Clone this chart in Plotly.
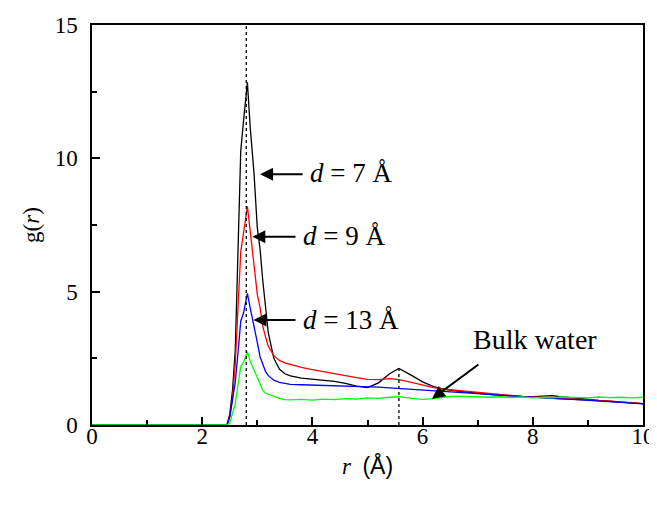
import plotly.graph_objects as go

r = [0.0, 2.4, 2.45, 2.5, 2.55, 2.6, 2.65, 2.7, 2.75, 2.82, 2.87, 2.94, 3.0, 3.05, 3.1, 3.15,
     3.2, 3.3, 3.4, 3.5, 3.6, 3.8, 4.0, 4.2, 4.4, 4.6, 4.8, 5.0, 5.2, 5.4, 5.57, 5.8, 6.0,
     6.2, 6.4, 6.6, 6.8, 7.0, 7.2, 7.4, 7.6, 7.8, 8.0, 8.2, 8.35, 8.5, 8.8, 9.0, 9.2, 9.4,
     9.6, 9.8, 10.0]

g_d7 = [0, 0, 0.02, 0.4, 1.3, 2.8, 6.5, 10.3, 11.4, 12.85, 11.2, 9.45, 7.4, 6.6, 5.4, 4.4,
        3.45, 2.5, 2.1, 1.92, 1.84, 1.76, 1.72, 1.69, 1.64, 1.56, 1.46, 1.40, 1.58, 1.92, 2.12,
        1.86, 1.62, 1.44, 1.34, 1.28, 1.23, 1.18, 1.15, 1.12, 1.09, 1.07, 1.06, 1.08, 1.10,
        1.06, 0.99, 0.95, 0.92, 0.89, 0.86, 0.83, 0.80]

g_d9 = [0, 0, 0, 0.3, 1.0, 2.3, 4.2, 6.5, 7.2, 8.2, 7.3, 5.9, 4.9, 4.4, 3.7, 3.3,
        2.95, 2.6, 2.42, 2.33, 2.27, 2.16, 2.08, 2.0, 1.93, 1.86, 1.78, 1.71, 1.70, 1.74, 1.70,
        1.60, 1.50, 1.40, 1.34, 1.30, 1.27, 1.22, 1.18, 1.13, 1.10, 1.07, 1.05, 1.03, 1.01,
        0.99, 0.96, 0.94, 0.91, 0.89, 0.86, 0.83, 0.80]

g_d13 = [0, 0, 0, 0.3, 0.9, 1.6, 2.7, 3.9, 4.2, 4.94, 4.4, 3.75, 3.1, 2.56, 2.25, 2.0,
         1.85, 1.68, 1.6, 1.55, 1.52, 1.51, 1.50, 1.49, 1.48, 1.47, 1.45, 1.44, 1.42, 1.39, 1.37,
         1.34, 1.31, 1.29, 1.26, 1.23, 1.21, 1.19, 1.15, 1.12, 1.09, 1.06, 1.04, 1.02, 1.0,
         0.98, 0.95, 0.93, 0.90, 0.87, 0.85, 0.82, 0.79]

g_bulk = [0, 0, 0, 0.06, 0.4, 0.8, 1.5, 2.2, 2.35, 2.75, 2.4, 2.05, 1.75, 1.5, 1.3, 1.19,
          1.15, 1.08, 1.0, 0.95, 0.94, 0.96, 0.93, 0.97, 0.95, 0.99, 0.97, 1.02, 1.0, 1.04, 1.06,
          1.0, 0.96, 0.99, 1.05, 1.08, 1.07, 1.05, 1.04, 1.06, 1.03, 1.05, 1.02, 1.04, 1.02,
          1.05, 1.03, 1.02, 1.05, 1.03, 1.04, 1.02, 1.04]

series_names = ["d = 7 Å", "d = 9 Å", "d = 13 Å", "Bulk water"]
series_colors = ["#000000", "#ff0000", "#0000ff", "#00ff00"]

peak_r = [2.8, 5.57]
peak_top = [15, 2.12]

x_ticks = [0, 2, 4, 6, 8, 10]
y_ticks = [0, 5, 10, 15]
x_range = [0, 10]
y_range = [0, 15]

SERIF = "Liberation Serif"

fig = go.Figure()

# dotted guide lines; each sits on one of the overlay axes so those axes get drawn
guide_axes = [("x2", "y"), ("x", "y2")]
for (pr, pt), (xa, ya) in zip(zip(peak_r, peak_top), guide_axes):
    fig.add_trace(go.Scatter(x=[pr, pr], y=[0, pt], mode="lines", xaxis=xa, yaxis=ya,
                             line=dict(color="black", width=1.3, dash="dot"),
                             showlegend=False, hoverinfo="skip"))

for name, ys, col in zip(series_names, [g_d7, g_d9, g_d13, g_bulk], series_colors):
    fig.add_trace(go.Scatter(x=r, y=ys, mode="lines", name=name,
                             line=dict(color=col, width=1.3), showlegend=False))

arrow = dict(showarrow=True, arrowhead=2, arrowsize=1.3, arrowwidth=2, arrowcolor="black",
             axref="x", ayref="y", xref="x", yref="y", text="")
annots = [
    dict(x=3.05, y=9.4, ax=3.85, ay=9.4, **arrow),
    dict(x=2.91, y=7.06, ax=3.72, ay=7.06, **arrow),
    dict(x=2.93, y=3.94, ax=3.72, ay=3.94, **arrow),
    dict(x=6.17, y=0.98, ax=7.04, ay=2.31, **arrow),
]
label_text = ["<i>d</i> = 7 Å", "<i>d</i> = 9 Å", "<i>d</i> = 13 Å", "Bulk water"]
label_pos = [(3.92, 9.45), (3.8, 7.1), (3.8, 3.95), (6.87, 3.22)]
label_size = [27, 27, 27, 28]
for t, (lx, ly), s in zip(label_text, label_pos, label_size):
    annots.append(dict(x=lx, y=ly, xref="x", yref="y", text=t, showarrow=False,
                       xanchor="left", yanchor="middle",
                       font=dict(family=SERIF, size=s, color="black")))

# page body has an 8px margin, so the figure is sized/offset to compensate
fig.update_layout(
    width=657, height=490,
    margin=dict(l=84, r=22, t=17, b=73, autoexpand=False),
    paper_bgcolor="white", plot_bgcolor="white",
    font=dict(family=SERIF, size=23, color="black"),
    annotations=annots,
)

tickfont = dict(family=SERIF, size=23, color="black")

fig.update_layout(
    # main x: frame line and inside ticks
    xaxis=dict(range=x_range, tickvals=x_ticks, showticklabels=False,
               showline=True, linecolor="black", linewidth=1.5, mirror=True,
               ticks="inside", ticklen=8, tickwidth=1.5, tickcolor="black",
               minor=dict(ticks="inside", ticklen=5, tickwidth=1.5, dtick=1, tickcolor="black"),
               showgrid=False, zeroline=False, automargin=False),
    # label-only x axis, nudged up a little so labels hug the frame
    xaxis2=dict(range=x_range, overlaying="x", anchor="free", position=0.0125, side="bottom",
                tickvals=x_ticks, ticktext=[str(v) for v in x_ticks], ticks="",
                showline=False, showgrid=False, zeroline=False, automargin=False,
                tickfont=tickfont,
                title=dict(text="<i>r</i>  <span style=\"font-family:Liberation Sans\">(Å)</span>",
                           font=dict(family=SERIF, size=23), standoff=9)),
    # main y: frame line, labels and title
    yaxis=dict(range=y_range, tickvals=y_ticks, ticktext=[str(v) for v in y_ticks],
               showline=True, linecolor="black", linewidth=1.5, mirror=True,
               ticks="", showgrid=False, zeroline=False, automargin=False,
               tickfont=tickfont, ticklabelstandoff=8,
               title=dict(text="g(<i>r</i>)", font=dict(family=SERIF, size=23), standoff=9)),
    # overlay y: inside ticks only
    yaxis2=dict(range=y_range, overlaying="y", anchor="x", side="left",
                tickvals=y_ticks, showticklabels=False, showline=False,
                ticks="inside", ticklen=8, tickwidth=1.5, tickcolor="black",
                minor=dict(ticks="inside", ticklen=5, tickwidth=1.5, dtick=2.5, tickcolor="black"),
                showgrid=False, zeroline=False, automargin=False),
)

fig.write_html("out.html")
